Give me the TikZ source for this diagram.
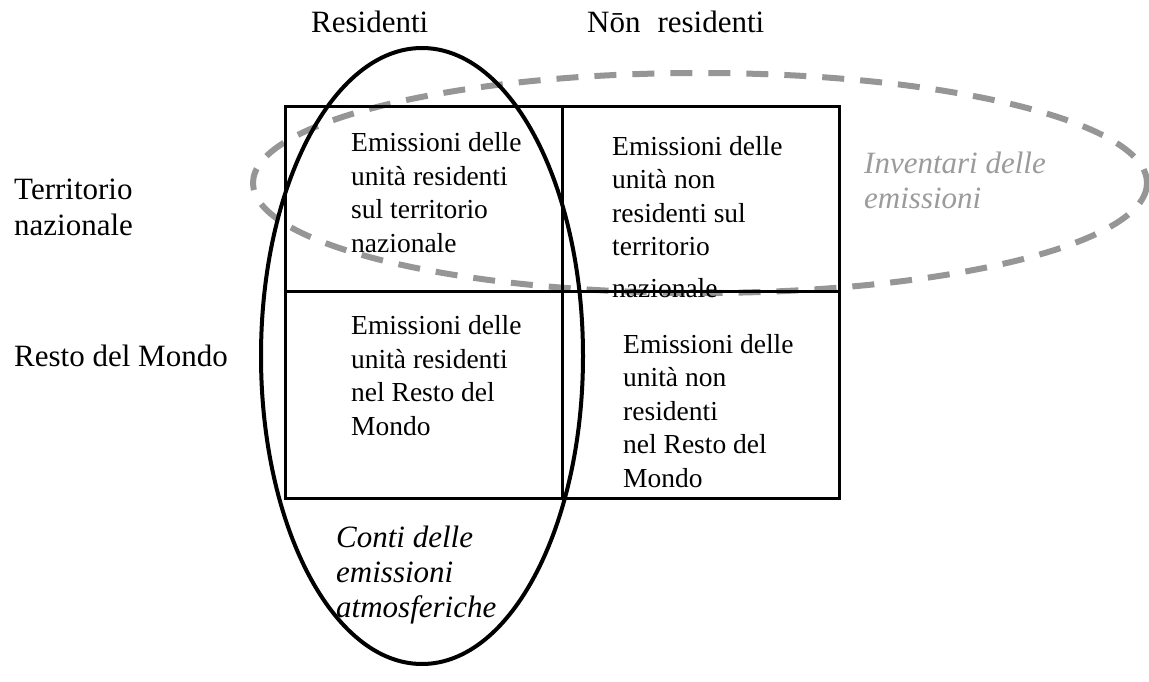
\documentclass[tikz,border=0pt]{standalone}
\usepackage{fontspec}
\setmainfont{Liberation Serif}
\definecolor{grigio}{RGB}{150,150,150}
\definecolor{grigiotesto}{RGB}{155,155,155}
\tikzset{
	etichetta/.style={anchor=base west, inner sep=0pt, align=left, font=\fontsize{31}{36}\selectfont},
	cella/.style={anchor=base west, inner sep=0pt, align=left, font=\fontsize{27.5}{33.5}\selectfont},
	corsivo/.style={anchor=base west, inner sep=0pt, align=left, font=\fontsize{31}{35}\selectfont\itshape},
	bordo/.style={line width=3pt}
}
\begin{document}
\begin{tikzpicture}[x=1pt,y=-1pt]
		\useasboundingbox ( 0, 0 ) rectangle ( 1149, 682 );

		% inventari delle emissioni
		\draw [grigio, line width=6pt, dash pattern=on 22pt off 16pt] ( 700, 183 ) ellipse [x radius=447, y radius=110];

		% tabella
		\draw [bordo] ( 285, 107 ) rectangle ( 839, 498 );
		\draw [bordo] ( 285, 291 ) -- ( 839, 291 );
		\draw [bordo] ( 562, 107 ) -- ( 562, 498 );

		% conti delle emissioni atmosferiche
		\draw [line width=4pt] ( 422, 356 ) ellipse [x radius=161, y radius=308];

		% intestazioni (base = ultima riga)
		\node [etichetta] (residenti) at ( 311, 33 ) {Residenti};
		\node [etichetta] (nonresidenti) at ( 587, 33 ) {Nōn\hspace{17pt}residenti};
		\node [etichetta] (territorio) at ( 14, 235 ) {Territorio\\nazionale};
		\node [etichetta] (resto) at ( 14, 366 ) {Resto del Mondo};

		% celle
		\node [cella] (resterr) at ( 351, 252 ) {Emissioni delle\\unità residenti\\sul territorio\\nazionale};
		\node [cella] (nonresterr) at ( 612, 297 ) {Emissioni delle\\unità non\\residenti sul\\territorio\\[8pt]nazionale};
		\node [cella] (resresto) at ( 351, 435 ) {Emissioni delle\\unità residenti\\nel Resto del\\Mondo};
		\node [cella] (nonresresto) at ( 623, 487 ) {Emissioni delle\\unità non\\residenti\\nel Resto del\\Mondo};

		% nomi degli insiemi
		\node [corsivo] (conti) at ( 336, 617 ) {Conti delle\\emissioni\\atmosferiche};
		\node [corsivo, grigiotesto] (inventari) at ( 864, 208 ) {Inventari delle\\emissioni};
\end{tikzpicture}
\end{document}
